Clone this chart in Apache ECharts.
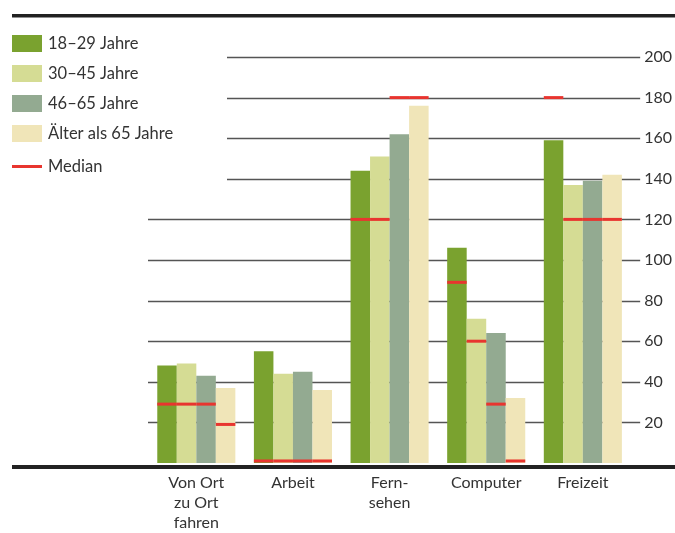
<!DOCTYPE html>
<html>
<head>
<meta charset="utf-8">
<script src="https://cdn.jsdelivr.net/npm/echarts@6/dist/echarts.min.js"></script>
<style>
  html, body { margin: 0; padding: 0; background: #fff; overflow: hidden; }
  #chart { width: 675px; height: 533px; }
</style>
</head>
<body>
<div id="chart"></div>
<script>
// Activities by age group, with the median per group
const categories = ['Von Ort\nzu Ort\nfahren', 'Arbeit', 'Fern-\nsehen', 'Computer', 'Freizeit'];
const groups = ['18–29 Jahre', '30–45 Jahre', '46–65 Jahre', 'Älter als 65 Jahre'];

const values18to29 = [48, 55, 144, 106, 159];
const values30to45 = [49, 44, 151, 71, 137];
const values46to65 = [43, 45, 162, 64, 139];
const valuesOver65 = [37, 36, 176, 32, 142];

const median18to29 = [29, 1, 120, 89, 180];
const median30to45 = [29, 1, 120, 60, 120];
const median46to65 = [29, 1, 180, 29, 120];
const medianOver65 = [19, 1, 180, 1, 120];

const yTicks = [20, 40, 60, 80, 100, 120, 140, 160, 180, 200];

const groupValues = [values18to29, values30to45, values46to65, valuesOver65];
const groupMedians = [median18to29, median30to45, median46to65, medianOver65];
const colors = ['#7aa22f', '#d5dc94', '#93aa91', '#f0e5b8'];
const medianColor = '#e8352f';
const textColor = '#333333';
const fontFamily = 'Lato, "Open Sans", sans-serif';

const CATEGORY_GAP = 0.192;   // share of each band left empty between bar groups
const LEGEND_EDGE = 227;       // upper grid lines stop short of the legend block
const TICK_LEN = 9;            // outward tick on the right-hand axis

const chart = echarts.init(document.getElementById('chart'), null, { renderer: 'canvas' });

const barSeries = groups.map((name, g) => ({
  name: name,
  type: 'bar',
  data: groupValues[g],
  barGap: '0%',
  barCategoryGap: (CATEGORY_GAP * 100) + '%',
  itemStyle: { color: colors[g] },
  z: 2,
  animation: false
}));

// Median marks: flat red bars laid across each age-group bar
const medianData = [];
groupMedians.forEach((arr, g) => arr.forEach((v, c) => medianData.push([c, v, g])));

const medianSeries = {
  name: 'Median',
  type: 'custom',
  data: medianData,
  encode: { x: 0, y: 1 },
  z: 5,
  animation: false,
  renderItem: function (params, api) {
    const c = api.value(0), v = api.value(1), g = api.value(2);
    const pt = api.coord([c, v]);
    const band = api.size([1, 0])[0];
    const bw = band * (1 - CATEGORY_GAP) / groups.length;
    const x0 = pt[0] - band * (1 - CATEGORY_GAP) / 2 + g * bw;
    return {
      type: 'rect',
      shape: { x: x0, y: pt[1] - 1.5, width: bw, height: 3 },
      style: { fill: medianColor }
    };
  }
};

// Horizontal grid lines with their axis ticks; the upper ones stay clear of the legend
const gridSeries = {
  name: 'grid',
  type: 'custom',
  data: yTicks.map(v => [0, v]),
  encode: { x: 0, y: 1 },
  z: 1,
  silent: true,
  animation: false,
  renderItem: function (params, api) {
    const cs = params.coordSys;
    const y = Math.round(api.coord([0, api.value(1)])[1]) + 0.5;
    const xs = api.value(1) >= 140 ? LEGEND_EDGE : cs.x;
    return {
      type: 'line',
      shape: { x1: xs, y1: y, x2: cs.x + cs.width + TICK_LEN, y2: y },
      style: { stroke: '#555555', lineWidth: 1.4 }
    };
  }
};

chart.setOption({
  backgroundColor: '#ffffff',
  animation: false,
  textStyle: { fontFamily: fontFamily },
  grid: { left: 148, right: 38, top: 57, bottom: 68, containLabel: false },
  legend: [
    {
      data: groups,
      orient: 'vertical',
      left: 12,
      top: 35,
      itemWidth: 30,
      itemHeight: 17,
      itemGap: 13,
      icon: 'rect',
      selectedMode: false,
      padding: 0,
      textStyle: { color: textColor, fontSize: 16.5, fontFamily: fontFamily, padding: [3, 0, 0, 1] }
    },
    {
      data: [{ name: 'Median', icon: 'rect', itemStyle: { color: medianColor } }],
      orient: 'vertical',
      left: 12,
      top: 158,
      itemWidth: 30,
      itemHeight: 3,
      selectedMode: false,
      padding: 0,
      textStyle: { color: textColor, fontSize: 16.5, fontFamily: fontFamily, padding: [3, 0, 0, 1] }
    }
  ],
  xAxis: {
    type: 'category',
    data: categories,
    axisLine: { show: false },
    axisTick: { show: false },
    axisLabel: {
      color: textColor,
      fontSize: 16,
      lineHeight: 20,
      margin: 10,
      fontFamily: fontFamily,
      interval: 0
    },
    splitLine: { show: false }
  },
  yAxis: {
    type: 'value',
    position: 'right',
    min: 0,
    max: 200,
    interval: 20,
    axisLine: { show: false },
    axisTick: { show: false },
    axisLabel: {
      color: textColor,
      fontSize: 16,
      margin: 13,
      fontFamily: fontFamily,
      formatter: v => (v === 0 ? '' : String(v))
    },
    splitLine: { show: false }
  },
  graphic: [
    { type: 'rect', shape: { x: 12, y: 14, width: 663, height: 3.5 }, style: { fill: '#222222' }, z: 10 },
    { type: 'rect', shape: { x: 12, y: 465, width: 663, height: 4 }, style: { fill: '#222222' }, z: 10 }
  ],
  series: [gridSeries].concat(barSeries, [medianSeries])
});
</script>
</body>
</html>
